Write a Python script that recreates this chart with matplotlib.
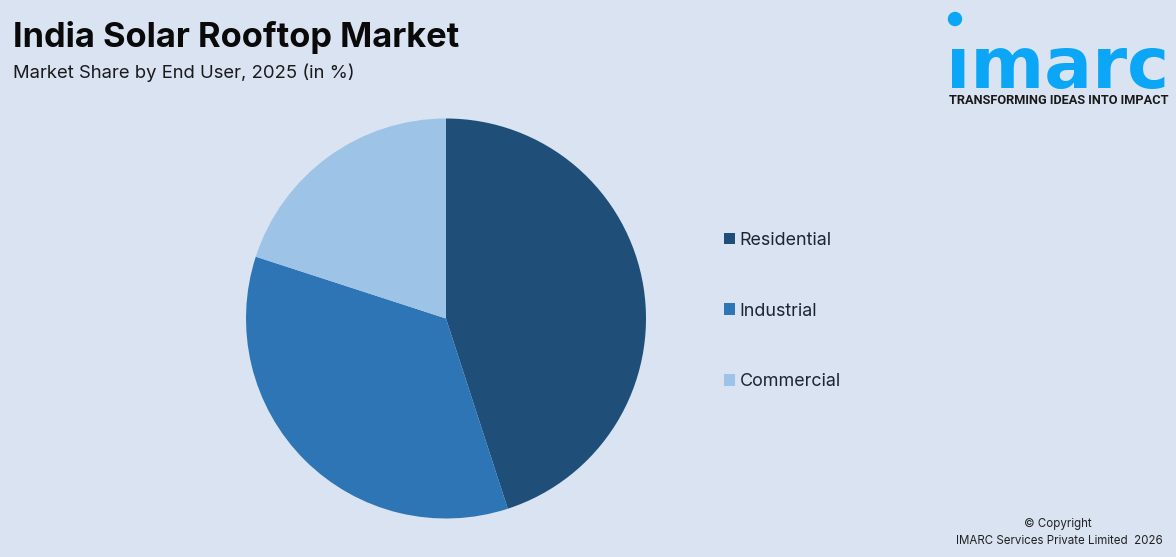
import matplotlib
matplotlib.use('Agg')
import matplotlib.pyplot as plt
from matplotlib.patches import Circle

# chart data
labels = ['Residential', 'Industrial', 'Commercial']
shares = [45, 35, 20]
colors = ['#1F4E79', '#2E75B6', '#9DC3E6']

W = 1176
H = 557
bg = '#DAE3F2'
logoBlue = '#0BA6F6'

fig = plt.figure(figsize=(W / 100, H / 100), dpi=100, facecolor=bg)

# pie, 200 px radius around (446, 318)
ax = fig.add_axes([246 / W, (H - 518.5) / H, 400 / W, 400 / H])
wedges, _ = ax.pie(shares, colors=colors, startangle=90, counterclock=False, radius=1)
ax.set_xlim(-1, 1)
ax.set_ylim(-1, 1)

leg = fig.legend(wedges, labels, loc='center left', bbox_to_anchor=(708 / W, (H - 311) / H),
                 frameon=False, labelspacing=3.0, handlelength=0.62, handleheight=0.62,
                 handletextpad=0.25, labelcolor='#1d2433', prop={'family': 'Inter', 'size': 12.9})

# title block
fig.text(13 / W, (H - 38) / H, 'India Solar Rooftop Market', fontsize=24.8, fontweight='bold',
         family='Inter', color='#0a0a0a', va='center', ha='left')
fig.text(13 / W, (H - 72.5) / H, 'Market Share by End User, 2025 (in %)', fontsize=13.3,
         family='Inter', color='#1a1a1a', va='center', ha='left')

# logo
fig.text(1058 / W, (H - 88) / H, 'ımarc', fontsize=51, fontweight='bold', family='DejaVu Sans',
         color=logoBlue, ha='center', va='baseline')
overlay = fig.add_axes([0, 0, 1, 1], facecolor='none')
overlay.set_xlim(0, W)
overlay.set_ylim(H, 0)
overlay.axis('off')
overlay.add_patch(Circle((955, 19), 6.5, color=logoBlue))
fig.text(1058.5 / W, (H - 100) / H, 'TRANSFORMING IDEAS INTO IMPACT', fontsize=9.2, fontweight='bold',
         family='Roboto', color='#1a1a1a', ha='center', va='center')

# copyright
fig.text(1058 / W, (H - 524) / H, '© Copyright', fontsize=8.3, family='Inter', color='#222222',
         ha='center', va='center')
fig.text(1059 / W, (H - 540.5) / H, 'IMARC Services Private Limited  2026', fontsize=8.3, family='Inter',
         color='#222222', ha='center', va='center')

fig.savefig('out.png', dpi=100, facecolor=bg)
plt.close()
